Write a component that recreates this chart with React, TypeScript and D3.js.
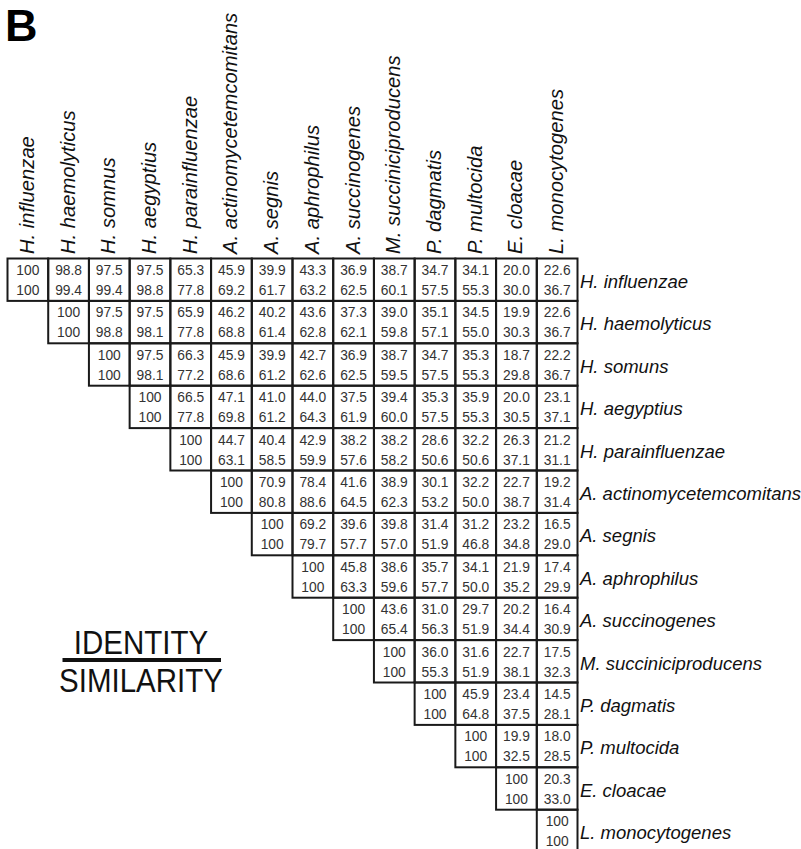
import React from "react";
import * as d3 from "d3";

const species = [
  "H. influenzae",
  "H. haemolyticus",
  "H. somnus",
  "H. aegyptius",
  "H. parainfluenzae",
  "A. actinomycetemcomitans",
  "A. segnis",
  "A. aphrophilus",
  "A. succinogenes",
  "M. succiniciproducens",
  "P. dagmatis",
  "P. multocida",
  "E. cloacae",
  "L. monocytogenes",
];

const rowLabels = [
  "H. influenzae",
  "H. haemolyticus",
  "H. somuns",
  "H. aegyptius",
  "H. parainfluenzae",
  "A. actinomycetemcomitans",
  "A. segnis",
  "A. aphrophilus",
  "A. succinogenes",
  "M. succiniciproducens",
  "P. dagmatis",
  "P. multocida",
  "E. cloacae",
  "L. monocytogenes",
];

// Upper triangle, each row starts at the diagonal
const identity: number[][] = [
  [100, 98.8, 97.5, 97.5, 65.3, 45.9, 39.9, 43.3, 36.9, 38.7, 34.7, 34.1, 20.0, 22.6],
  [100, 97.5, 97.5, 65.9, 46.2, 40.2, 43.6, 37.3, 39.0, 35.1, 34.5, 19.9, 22.6],
  [100, 97.5, 66.3, 45.9, 39.9, 42.7, 36.9, 38.7, 34.7, 35.3, 18.7, 22.2],
  [100, 66.5, 47.1, 41.0, 44.0, 37.5, 39.4, 35.3, 35.9, 20.0, 23.1],
  [100, 44.7, 40.4, 42.9, 38.2, 38.2, 28.6, 32.2, 26.3, 21.2],
  [100, 70.9, 78.4, 41.6, 38.9, 30.1, 32.2, 22.7, 19.2],
  [100, 69.2, 39.6, 39.8, 31.4, 31.2, 23.2, 16.5],
  [100, 45.8, 38.6, 35.7, 34.1, 21.9, 17.4],
  [100, 43.6, 31.0, 29.7, 20.2, 16.4],
  [100, 36.0, 31.6, 22.7, 17.5],
  [100, 45.9, 23.4, 14.5],
  [100, 19.9, 18.0],
  [100, 20.3],
  [100],
];

const similarity: number[][] = [
  [100, 99.4, 99.4, 98.8, 77.8, 69.2, 61.7, 63.2, 62.5, 60.1, 57.5, 55.3, 30.0, 36.7],
  [100, 98.8, 98.1, 77.8, 68.8, 61.4, 62.8, 62.1, 59.8, 57.1, 55.0, 30.3, 36.7],
  [100, 98.1, 77.2, 68.6, 61.2, 62.6, 62.5, 59.5, 57.5, 55.3, 29.8, 36.7],
  [100, 77.8, 69.8, 61.2, 64.3, 61.9, 60.0, 57.5, 55.3, 30.5, 37.1],
  [100, 63.1, 58.5, 59.9, 57.6, 58.2, 50.6, 50.6, 37.1, 31.1],
  [100, 80.8, 88.6, 64.5, 62.3, 53.2, 50.0, 38.7, 31.4],
  [100, 79.7, 57.7, 57.0, 51.9, 46.8, 34.8, 29.0],
  [100, 63.3, 59.6, 57.7, 50.0, 35.2, 29.9],
  [100, 65.4, 56.3, 51.9, 34.4, 30.9],
  [100, 55.3, 51.9, 38.1, 32.3],
  [100, 64.8, 37.5, 28.1],
  [100, 32.5, 28.5],
  [100, 33.0],
  [100],
];

const W = 801;
const H = 849;
const FONT = "'Liberation Sans', Arial, Helvetica, sans-serif";

const fmt = (v: number) => (v === 100 ? "100" : v.toFixed(1));

export default function App() {
  const x = d3.scaleBand<number>().domain(d3.range(species.length)).range([7.5, 577.5]);
  const y = d3
    .scaleBand<number>()
    .domain(d3.range(species.length))
    .range([258.5, 258.5 + 42.4 * species.length]);
  const bw = x.bandwidth();
  const bh = y.bandwidth();

  const cells: { r: number; c: number; id: number; sim: number }[] = [];
  identity.forEach((row, r) => {
    row.forEach((v, k) => {
      cells.push({ r, c: r + k, id: v, sim: similarity[r][k] });
    });
  });

  return (
    <svg
      width={W}
      height={H}
      style={{ position: "absolute", left: 0, top: 0, display: "block", background: "#fff" }}
      fontFamily={FONT}
    >
      <rect x={0} y={0} width={W} height={H} fill="#fff" />
      <text x={5} y={41} fontSize={45} fontWeight="bold" fill="#000">
        B
      </text>

      {/* column headers */}
      {species.map((s, i) => {
        const cx = (x(i) as number) + bw / 2 + 6;
        return (
          <text
            key={"h" + i}
            transform={`translate(${cx},254) rotate(-90)`}
            fontSize={20.2}
            fontStyle="italic"
            fill="#111"
          >
            {s}
          </text>
        );
      })}

      {/* cells */}
      {cells.map((d, i) => {
        const cx = x(d.c) as number;
        const cy = y(d.r) as number;
        return (
          <g key={"c" + i}>
            <rect x={cx} y={cy} width={bw} height={bh} fill="none" stroke="#1a1a1a" strokeWidth={2} />
            <text x={cx + bw / 2} y={cy + 16.5} textAnchor="middle" fontSize={13.8} fill="#333">
              {fmt(d.id)}
            </text>
            <text x={cx + bw / 2} y={cy + 36.5} textAnchor="middle" fontSize={13.8} fill="#333">
              {fmt(d.sim)}
            </text>
          </g>
        );
      })}

      {/* row labels */}
      {rowLabels.map((s, i) => (
        <text
          key={"r" + i}
          x={580}
          y={(y(i) as number) + 29.5}
          fontSize={18.5}
          fontStyle="italic"
          fill="#111"
        >
          {s}
        </text>
      ))}

      {/* legend */}
      <g transform="translate(141,653.5) scale(1,1.12)">
        <text x={0} y={0} textAnchor="middle" fontSize={29.5} fill="#111">
          IDENTITY
        </text>
      </g>
      <line x1={62.5} x2={221} y1={660} y2={660} stroke="#111" strokeWidth={4} />
      <g transform="translate(141,691.7) scale(1,1.12)">
        <text x={0} y={0} textAnchor="middle" fontSize={29.5} fill="#111">
          SIMILARITY
        </text>
      </g>
    </svg>
  );
}
